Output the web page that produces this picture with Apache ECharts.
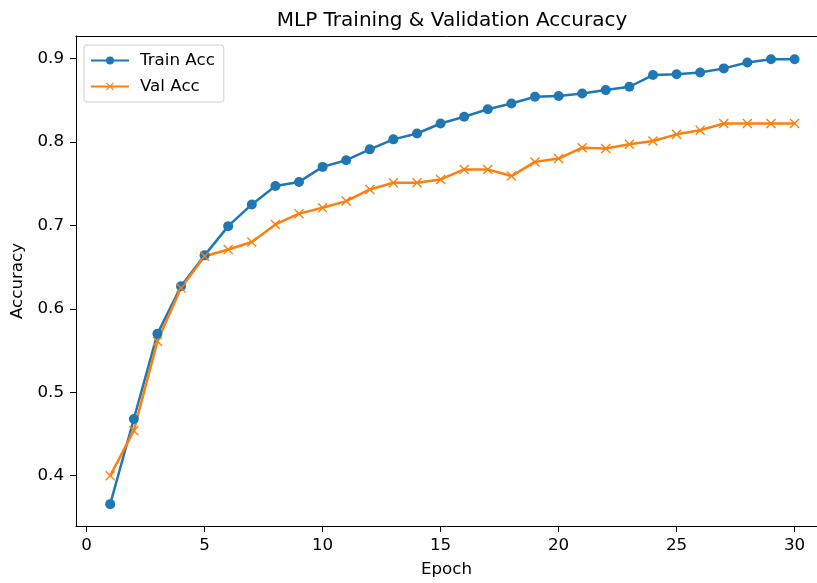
<!DOCTYPE html>
<html>
<head>
<meta charset="utf-8">
<script src="https://cdn.jsdelivr.net/npm/echarts@6/dist/echarts.min.js"></script>
<style>html,body{margin:0;padding:0;background:#fff;overflow:hidden;}#c{width:817px;height:583px;}</style>
</head>
<body>
<div id="c"></div>
<script>
const epochs = [1,2,3,4,5,6,7,8,9,10,11,12,13,14,15,16,17,18,19,20,21,22,23,24,25,26,27,28,29,30];
const trainAcc = [0.366,0.468,0.570,0.627,0.664,0.699,0.725,0.747,0.752,0.770,0.778,0.791,0.803,0.810,0.822,0.830,0.839,0.846,0.854,0.855,0.858,0.862,0.866,0.880,0.881,0.883,0.888,0.895,0.899,0.899];
const valAcc = [0.400,0.454,0.561,0.625,0.663,0.671,0.680,0.701,0.714,0.721,0.729,0.743,0.751,0.751,0.755,0.767,0.767,0.759,0.776,0.780,0.793,0.792,0.797,0.801,0.809,0.814,0.822,0.822,0.822,0.822];
const xTicks = [0,5,10,15,20,25,30];
const yTicks = [0.4,0.5,0.6,0.7,0.8,0.9];

const FONT = 'DejaVu Sans';
const xMark = 'path://M0,1 L1,0 L5,4 L9,0 L10,1 L6,5 L10,9 L9,10 L5,6 L1,10 L0,9 L4,5 Z';

const chart = echarts.init(document.getElementById('c'), null, {renderer: 'canvas', width: 817, height: 583});
chart.setOption({
  animation: false,
  backgroundColor: '#ffffff',
  textStyle: {fontFamily: FONT},
  title: {
    text: 'MLP Training & Validation Accuracy',
    left: 447, top: 6, textAlign: 'center',
    textStyle: {fontFamily: FONT, fontSize: 20, fontWeight: 'normal', color: '#000'}
  },
  legend: {
    left: 84, top: 45, orient: 'vertical',
    padding: [7, 9, 7, 6], itemGap: 9, itemWidth: 38, itemHeight: 10,
    borderColor: '#d0d0d0', borderWidth: 1, borderRadius: 3,
    textStyle: {fontFamily: FONT, fontSize: 16.7, color: '#000', padding: [0, 0, 0, 6]},
    data: ['Train Acc', 'Val Acc']
  },
  grid: {left: 76, top: 36, width: 741, height: 494, show: false},
  xAxis: [{
    type: 'value', min: -0.45, max: 30.95,
    name: 'Epoch', nameLocation: 'middle', nameGap: 35,
    nameTextStyle: {fontFamily: FONT, fontSize: 16.7, color: '#000'},
    axisLine: {show: true, onZero: false, lineStyle: {color: '#000', width: 1}},
    axisTick: {show: true, inside: false, length: 6, customValues: xTicks, lineStyle: {color: '#000'}},
    axisLabel: {customValues: xTicks, margin: 11, fontFamily: FONT, fontSize: 16.7, color: '#000'},
    splitLine: {show: false}
  }, {
    type: 'value', position: 'top', min: -0.45, max: 30.95,
    axisLine: {show: true, onZero: false, lineStyle: {color: '#000', width: 1}},
    axisTick: {show: false}, axisLabel: {show: false}, splitLine: {show: false}
  }],
  yAxis: {
    type: 'value', min: 0.3398, max: 0.9268,
    name: 'Accuracy', nameLocation: 'middle', nameGap: 47, nameRotate: 90,
    nameTextStyle: {fontFamily: FONT, fontSize: 16.7, color: '#000'},
    axisLine: {show: true, onZero: false, lineStyle: {color: '#000', width: 1}},
    axisTick: {show: true, inside: false, length: 6, customValues: yTicks, lineStyle: {color: '#000'}},
    axisLabel: {customValues: yTicks, margin: 12, fontFamily: FONT, fontSize: 16.7, color: '#000',
      formatter: v => v.toFixed(1)},
    splitLine: {show: false}
  },
  series: [
    {
      name: 'Train Acc', type: 'line',
      data: epochs.map((e, i) => [e, trainAcc[i]]),
      symbol: 'circle', symbolSize: 10, showAllSymbol: true,
      lineStyle: {color: '#1f77b4', width: 2.5},
      itemStyle: {color: '#1f77b4', borderWidth: 0},
      emphasis: {disabled: true}
    },
    {
      name: 'Val Acc', type: 'line',
      data: epochs.map((e, i) => [e, valAcc[i]]),
      symbol: xMark, symbolSize: 10, showAllSymbol: true,
      lineStyle: {color: '#ff7f0e', width: 2.5},
      itemStyle: {color: '#ff7f0e', borderWidth: 0},
      emphasis: {disabled: true}
    }
  ]
});
</script>
</body>
</html>
